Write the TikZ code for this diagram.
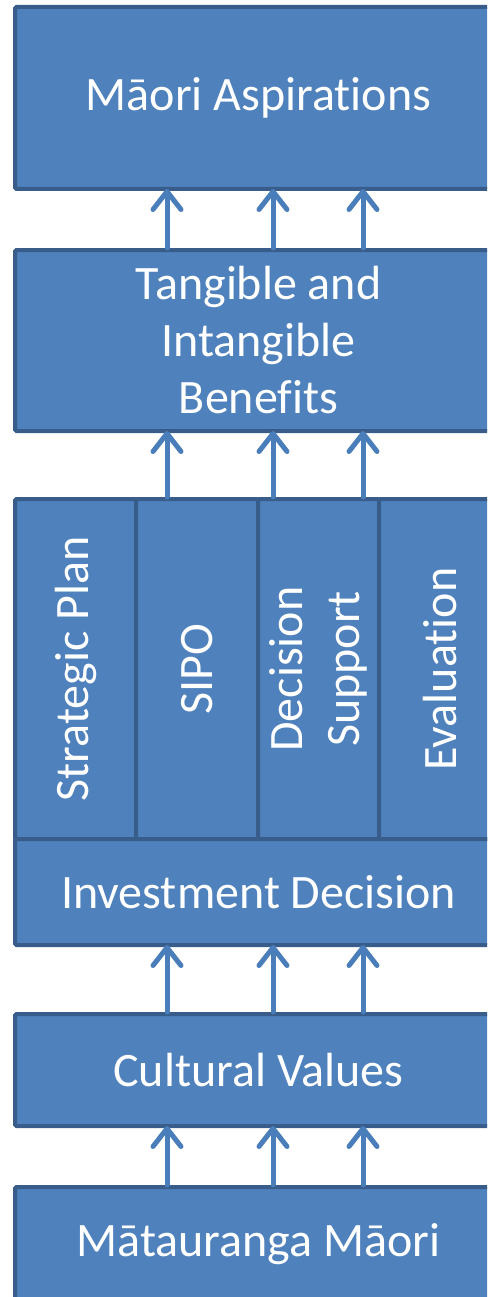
\documentclass[tikz,border=0pt]{standalone}
\usepackage{fontspec}
\setmainfont{Carlito}[Ligatures=NoCommon]
\usetikzlibrary{arrows.meta}
\definecolor{boxfill}{HTML}{4F81BD}
\definecolor{boxline}{HTML}{385D8A}
\definecolor{arrowc}{HTML}{4A7EBB}
\tikzset{
  box/.style={draw=boxline, fill=boxfill, line width=4pt, text=white,
    font=\fontsize{48pt}{57pt}\selectfont, align=center, inner sep=0pt,
    outer sep=0pt, rounded corners=1.5pt},
  uparrow/.style={draw=arrowc, line width=5pt, line cap=round, shorten <=2pt,
    -{Straight Barb[length=18pt,width=28pt,round]}},
}
\begin{document}
\begin{tikzpicture}[x=1pt,y=-1pt]
\useasboundingbox (0,0) rectangle (487,1297);
\clip (0,0) rectangle (487,1297);
% boxes
\node[box, minimum width=487pt, minimum height=182pt] (asp) at (258.5,98) {\raisebox{-3pt}{Māori Aspirations}};
\node[box, minimum width=487pt, minimum height=181pt] (tib) at (258.5,340.5) {Tangible and\\Intangible\\Benefits};
\node[box, rotate=90, minimum width=340pt, minimum height=121pt] (sp) at (75.5,669) {Strategic Plan};
\node[box, rotate=90, minimum width=340pt, minimum height=122pt] (sipo) at (197,669) {SIPO};
\node[box, rotate=90, minimum width=340pt, minimum height=121pt] (ds) at (318.5,669) {Decision\\Support};
\node[box, rotate=90, minimum width=340pt, minimum height=123pt] (ev) at (440.5,669) {Evaluation};
\node[box, minimum width=487pt, minimum height=106pt] (inv) at (258.5,892) {Investment Decision};
\node[box, minimum width=487pt, minimum height=112pt] (cv) at (258.5,1070) {Cultural Values};
\node[box, minimum width=487pt, minimum height=114pt] (mm) at (258.5,1244) {\raisebox{-2pt}{Mātauranga Māori}};
% arrow columns
\coordinate (a1) at (167,0);
\coordinate (a2) at (273,0);
\coordinate (a3) at (363,0);
\foreach \c in {a1,a2,a3}{
  \draw[uparrow] (\c |- tib.north) -- (\c |- asp.south);
  \draw[uparrow] (\c |- sipo.east) -- (\c |- tib.south);
  \draw[uparrow] (\c |- cv.north) -- (\c |- inv.south);
  \draw[uparrow] (\c |- mm.north) -- (\c |- cv.south);
}
\end{tikzpicture}
\end{document}
